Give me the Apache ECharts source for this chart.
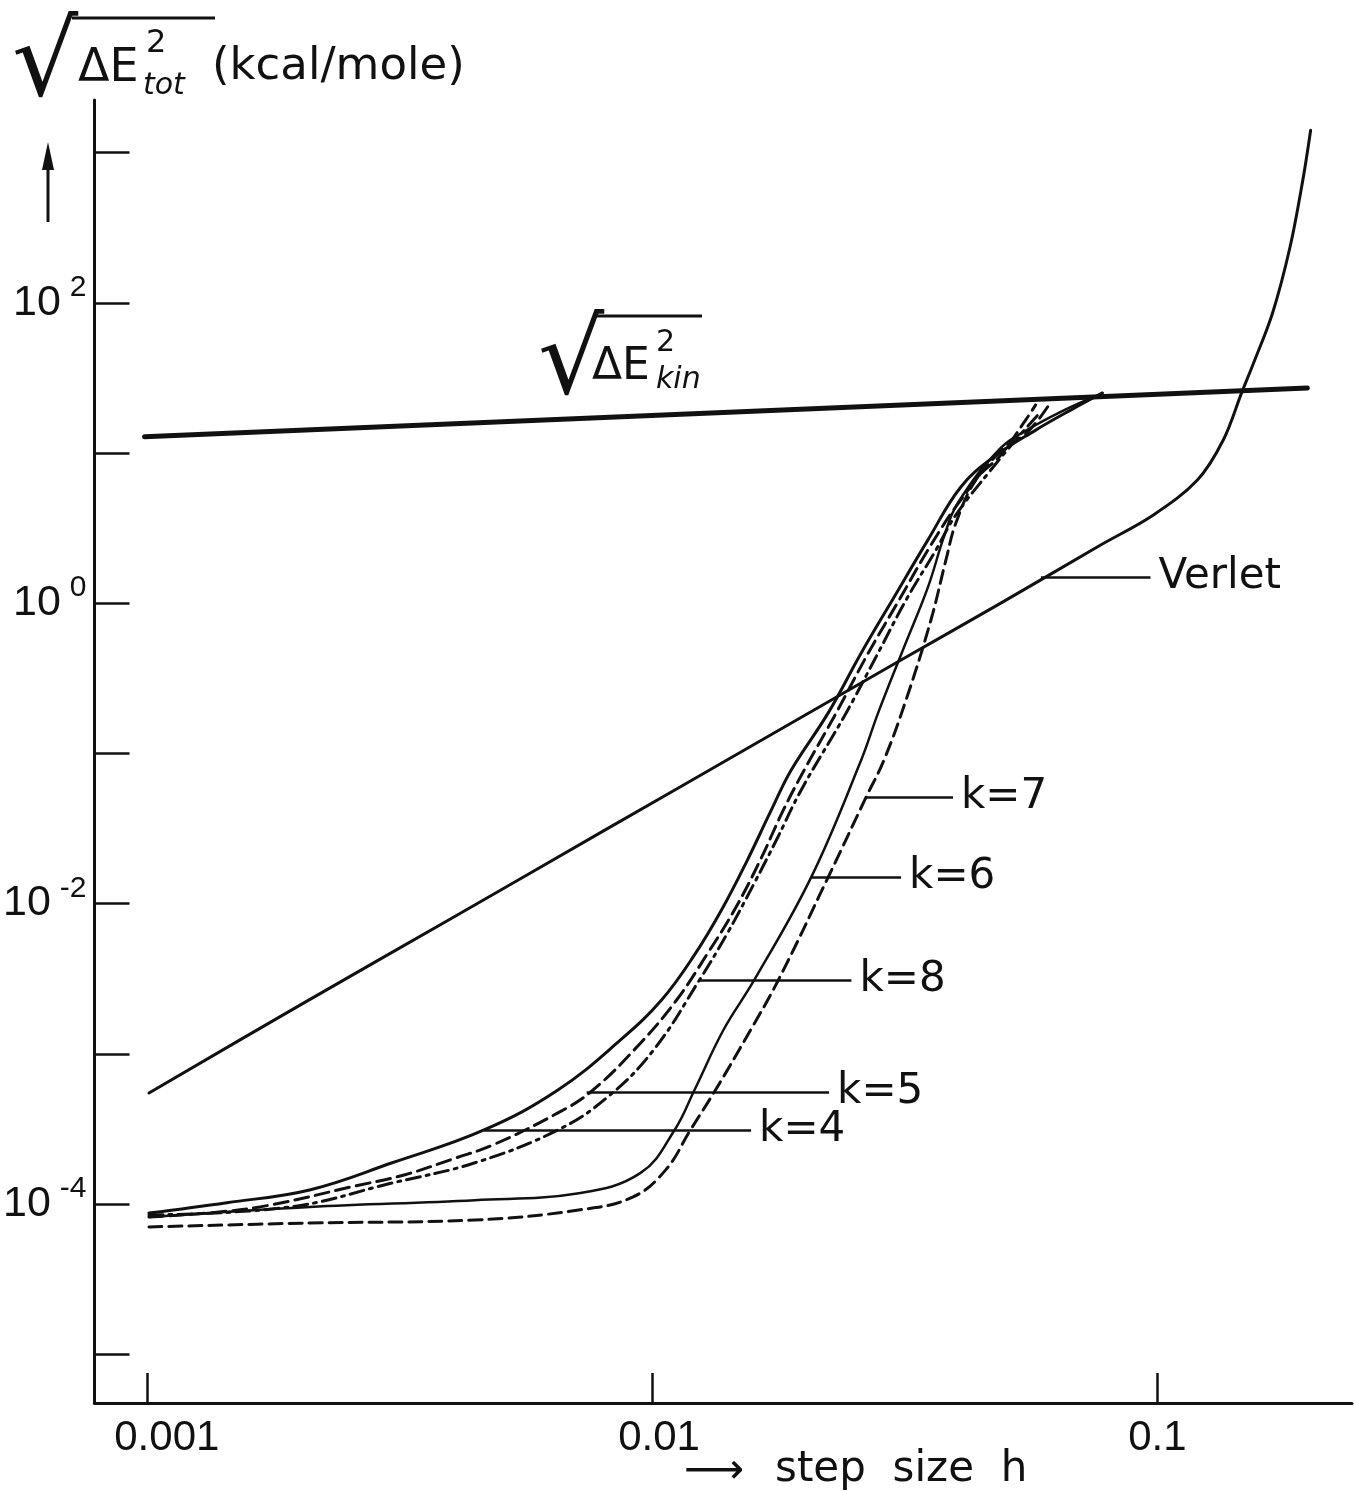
<!DOCTYPE html>
<html><head><meta charset="utf-8">
<script src="https://cdn.jsdelivr.net/npm/echarts@6/dist/echarts.min.js"></script>
<style>html,body{margin:0;padding:0;background:#fff}#c{width:1354px;height:1491px}</style>
</head><body><div id="c"></div>
<script>
// ---- axis ticks / labels ----
const xTicks = [0.001, 0.01, 0.1];
const xTickLabels = ['0.001', '0.01', '0.1'];
const yTicks = [1e-5, 1e-4, 1e-3, 1e-2, 1e-1, 1, 10, 100, 1000];
const yLabelValues = [1e-4, 1e-2, 1, 100];

// ---- sqrt(<dE_kin^2>) ----
const kinH = [0.00099, 0.198];
const kinE = [12.8, 27.1];

// ---- Verlet ----
const verletH = [0.00101, 0.00203, 0.00402, 0.00795, 0.01572, 0.03109, 0.04898, 0.0772, 0.0982, 0.120, 0.135, 0.147, 0.155, 0.169, 0.183, 0.194, 0.201];
const verletE = [5.48e-4, 2.15e-3, 8.02e-3, 0.0300, 0.112, 0.418, 1.00, 2.44, 3.87, 6.61, 12.2, 25.5, 39.7, 85.5, 235, 658, 1410];

// ---- Gear k = 4 (solid) ----
const k4H = [0.00101, 0.00144, 0.00210, 0.00306, 0.00465, 0.00651, 0.00867, 0.01044, 0.01213, 0.01372, 0.01537, 0.01722, 0.01885, 0.02231, 0.02593, 0.03013, 0.03515, 0.04083, 0.04745, 0.05742, 0.06734, 0.07785];
const k4E = [8.7e-5, 1.02e-4, 1.24e-4, 1.88e-4, 3.11e-4, 5.74e-4, 1.24e-3, 2.28e-3, 4.55e-3, 9.06e-3, 0.0189, 0.0420, 0.0775, 0.186, 0.466, 1.10, 2.64, 5.94, 9.41, 14.2, 19.3, 25.1];

// ---- k = 5 (dashed) ----
const k5H = [0.00101, 0.00139, 0.00176, 0.00254, 0.00323, 0.00408, 0.00484, 0.00651, 0.00760, 0.00949, 0.01118, 0.01282, 0.01455, 0.01630, 0.01819, 0.02000, 0.02314, 0.02665, 0.03082, 0.03563, 0.04083, 0.04920, 0.05512, 0.06066];
const k5E = [8.19e-5, 8.84e-5, 9.85e-5, 1.30e-4, 1.56e-4, 2.02e-4, 2.47e-4, 4.04e-4, 5.65e-4, 1.18e-3, 2.28e-3, 4.55e-3, 9.06e-3, 0.0189, 0.0420, 0.0775, 0.186, 0.452, 1.05, 2.44, 4.87, 10.5, 13.6, 20.3];

// ---- k = 8 (dash-dot) ----
const k8H = [0.00101, 0.00192, 0.00306, 0.00446, 0.00651, 0.00817, 0.01007, 0.01241, 0.01403, 0.01586, 0.01762, 0.01973, 0.02421, 0.02787, 0.03181, 0.03645, 0.03992, 0.04680, 0.05244, 0.05875];
const k8E = [8.45e-5, 9.55e-5, 1.38e-4, 1.88e-4, 3.11e-4, 5.16e-4, 1.06e-3, 3.10e-3, 6.18e-3, 0.0133, 0.0265, 0.0571, 0.186, 0.452, 1.05, 2.26, 3.87, 7.70, 12.2, 18.8];

// ---- k = 6 (solid) ----
const k6H = [0.00101, 0.00210, 0.00446, 0.00716, 0.00949, 0.01108, 0.01213, 0.01384, 0.01593, 0.02065, 0.02593, 0.02801, 0.03153, 0.03515, 0.03780, 0.04028, 0.04898, 0.05614, 0.06436, 0.07375];
const k6E = [8.19e-5, 9.55e-5, 1.06e-4, 1.18e-4, 1.61e-4, 3.11e-4, 5.74e-4, 1.44e-3, 3.10e-3, 0.0150, 0.0904, 0.186, 0.511, 1.28, 2.76, 4.65, 10.8, 14.7, 18.8, 23.2];

// ---- k = 7 (dashed) ----
const k7H = [0.00101, 0.00210, 0.00446, 0.00716, 0.00915, 0.01063, 0.01191, 0.01335, 0.01537, 0.01778, 0.02231, 0.02653, 0.02877, 0.03181, 0.03563, 0.03815, 0.03992, 0.04372, 0.04898, 0.05488, 0.05742];
const k7E = [7.03e-5, 7.47e-5, 7.82e-5, 9.12e-5, 1.11e-4, 1.68e-4, 3.11e-4, 5.74e-4, 1.29e-3, 3.10e-3, 0.0150, 0.0513, 0.0904, 0.227, 0.773, 1.94, 3.42, 6.61, 9.70, 16.6, 20.9];

// ---- leader lines for the curve labels ----
const leaderText = ['Verlet', 'k=7', 'k=6', 'k=8', 'k=5', 'k=4'];
const leaderH0 = [0.0588, 0.0265, 0.0207, 0.0124, 0.00742, 0.00465];
const leaderH1 = [0.0969, 0.0394, 0.0311, 0.0248, 0.0224, 0.0157];
const leaderE = [1.49, 0.0513, 0.0150, 3.10e-3, 5.57e-4, 3.11e-4];

const INK = '#111';
const FONT = 'DejaVu Sans';
const AXFONT = 'Liberation Sans';
const XLS = 42;
const YLS = 43;

const pairs = (h, e) => h.map((v, i) => [v, e[i]]);

function leader(i) {
  return {
    silent: true,
    symbol: 'none',
    lineStyle: { color: INK, width: 2.5, type: 'solid' },
    label: { show: true, position: 'end', distance: 8, formatter: leaderText[i],
             color: INK, fontSize: 42, fontFamily: FONT },
    data: [[{ coord: [leaderH0[i], leaderE[i]] }, { coord: [leaderH1[i], leaderE[i]] }]]
  };
}

function curve(name, h, e, type, width, smooth, ml) {
  const s = {
    name, type: 'line', data: pairs(h, e), showSymbol: false, symbol: 'none',
    smooth: smooth,
    lineStyle: { color: INK, width: width, type: type, cap: 'round', join: 'round' },
    z: 3
  };
  if (ml != null) s.markLine = leader(ml);
  return s;
}

const xRich = {
  a0: { padding: [0, 0, 0, 40], fontSize: XLS, fontFamily: AXFONT, color: INK },
  a1: { padding: [0, 0, 0, 14], fontSize: XLS, fontFamily: AXFONT, color: INK },
  a2: { padding: [0, 0, 0, 0], fontSize: XLS, fontFamily: AXFONT, color: INK }
};

const chart = echarts.init(document.getElementById('c'), null, { renderer: 'canvas' });
chart.setOption({
  animation: false,
  backgroundColor: '#ffffff',
  grid: { left: 92, right: 2, top: 100, bottom: 88, containLabel: false },
  xAxis: {
    type: 'log', logBase: 10, min: 7.88e-4, max: 0.2427,
    axisLine: { show: true, lineStyle: { color: INK, width: 3 } },
    axisTick: { show: true, inside: true, length: 30, lineStyle: { color: INK, width: 2.5 }, customValues: xTicks },
    minorTick: { show: false },
    splitLine: { show: false },
    axisLabel: {
      show: true, customValues: xTicks, margin: 14, color: INK, fontSize: XLS, fontFamily: AXFONT,
      formatter: v => { const i = xTicks.findIndex(t => Math.abs(t - v) / t < 1e-6); return '{a' + i + '|' + xTickLabels[i] + '}'; },
      rich: xRich
    }
  },
  yAxis: {
    type: 'log', logBase: 10, min: 4.73e-6, max: 2239,
    axisLine: { show: true, lineStyle: { color: INK, width: 3 } },
    axisTick: { show: true, inside: true, length: 35, lineStyle: { color: INK, width: 2.5 }, customValues: yTicks },
    minorTick: { show: false },
    splitLine: { show: false },
    axisLabel: {
      show: true, customValues: yLabelValues, margin: 8, color: INK,
      formatter: v => { const e = Math.round(Math.log10(v)); return '{b|10}{s|' + (e < 0 ? '-' : '') + Math.abs(e) + '}'; },
      rich: {
        b: { fontSize: YLS, fontFamily: AXFONT, color: INK },
        s: { fontSize: 30, fontFamily: AXFONT, color: INK, padding: [0, 0, 30, 9] }
      }
    }
  },
  series: [
    curve('kin', kinH, kinE, 'solid', 5, false),
    curve('Verlet', verletH, verletE, 'solid', 3, 0.35, 0),
    curve('k=4', k4H, k4E, 'solid', 3, 0.4, 5),
    curve('k=5', k5H, k5E, [14, 7], 3, 0.4, 4),
    curve('k=8', k8H, k8E, [14, 6, 3, 6], 3, 0.4, 3),
    curve('k=6', k6H, k6E, 'solid', 2.5, 0.4, 2),
    curve('k=7', k7H, k7E, [13, 7], 3, 0.4, 1)
  ],
  graphic: [
    // y-axis title: sqrt(<dE_tot^2>) (kcal/mole)
    { type: 'text', x: 12, y: 16, style: { text: '√', fontSize: 104, fontFamily: FONT, fill: INK, align: 'left', verticalAlign: 'top' } },
    { type: 'line', shape: { x1: 72, y1: 18, x2: 215, y2: 18 }, style: { stroke: INK, lineWidth: 3 } },
    { type: 'text', x: 78, y: 69, style: { text: 'ΔE', fontSize: 46, fontFamily: FONT, fill: INK, align: 'left', verticalAlign: 'middle' } },
    { type: 'text', x: 146, y: 44, style: { text: '2', fontSize: 32, fontFamily: FONT, fill: INK, align: 'left', verticalAlign: 'middle' } },
    { type: 'text', x: 143, y: 86, style: { text: 'tot', fontSize: 30, fontStyle: 'italic', fontFamily: FONT, fill: INK, align: 'left', verticalAlign: 'middle' } },
    { type: 'text', x: 212, y: 67, style: { text: '(kcal/mole)', fontSize: 45, fontFamily: FONT, fill: INK, align: 'left', verticalAlign: 'middle' } },
    // up arrow
    { type: 'line', shape: { x1: 48, y1: 222, x2: 48, y2: 150 }, style: { stroke: INK, lineWidth: 3 } },
    { type: 'polygon', shape: { points: [[42, 170], [48, 142], [54, 170]] }, style: { fill: INK } },
    // kinetic energy label
    { type: 'text', x: 538, y: 314, style: { text: '√', fontSize: 104, fontFamily: FONT, fill: INK, align: 'left', verticalAlign: 'top' } },
    { type: 'line', shape: { x1: 596, y1: 316, x2: 702, y2: 316 }, style: { stroke: INK, lineWidth: 3 } },
    { type: 'text', x: 592, y: 368, style: { text: 'ΔE', fontSize: 44, fontFamily: FONT, fill: INK, align: 'left', verticalAlign: 'middle' } },
    { type: 'text', x: 656, y: 343, style: { text: '2', fontSize: 30, fontFamily: FONT, fill: INK, align: 'left', verticalAlign: 'middle' } },
    { type: 'text', x: 656, y: 380, style: { text: 'kin', fontSize: 30, fontStyle: 'italic', fontFamily: FONT, fill: INK, align: 'left', verticalAlign: 'middle' } },
    // x-axis title
    { type: 'text', x: 684, y: 1472, style: { text: '⟶', fontSize: 42, fontFamily: FONT, fill: INK, align: 'left', verticalAlign: 'middle' } },
    { type: 'text', x: 775, y: 1470, style: { text: 'step  size  h', fontSize: 42, fontFamily: FONT, fill: INK, align: 'left', verticalAlign: 'middle' } }
  ]
});
</script>
</body></html>
